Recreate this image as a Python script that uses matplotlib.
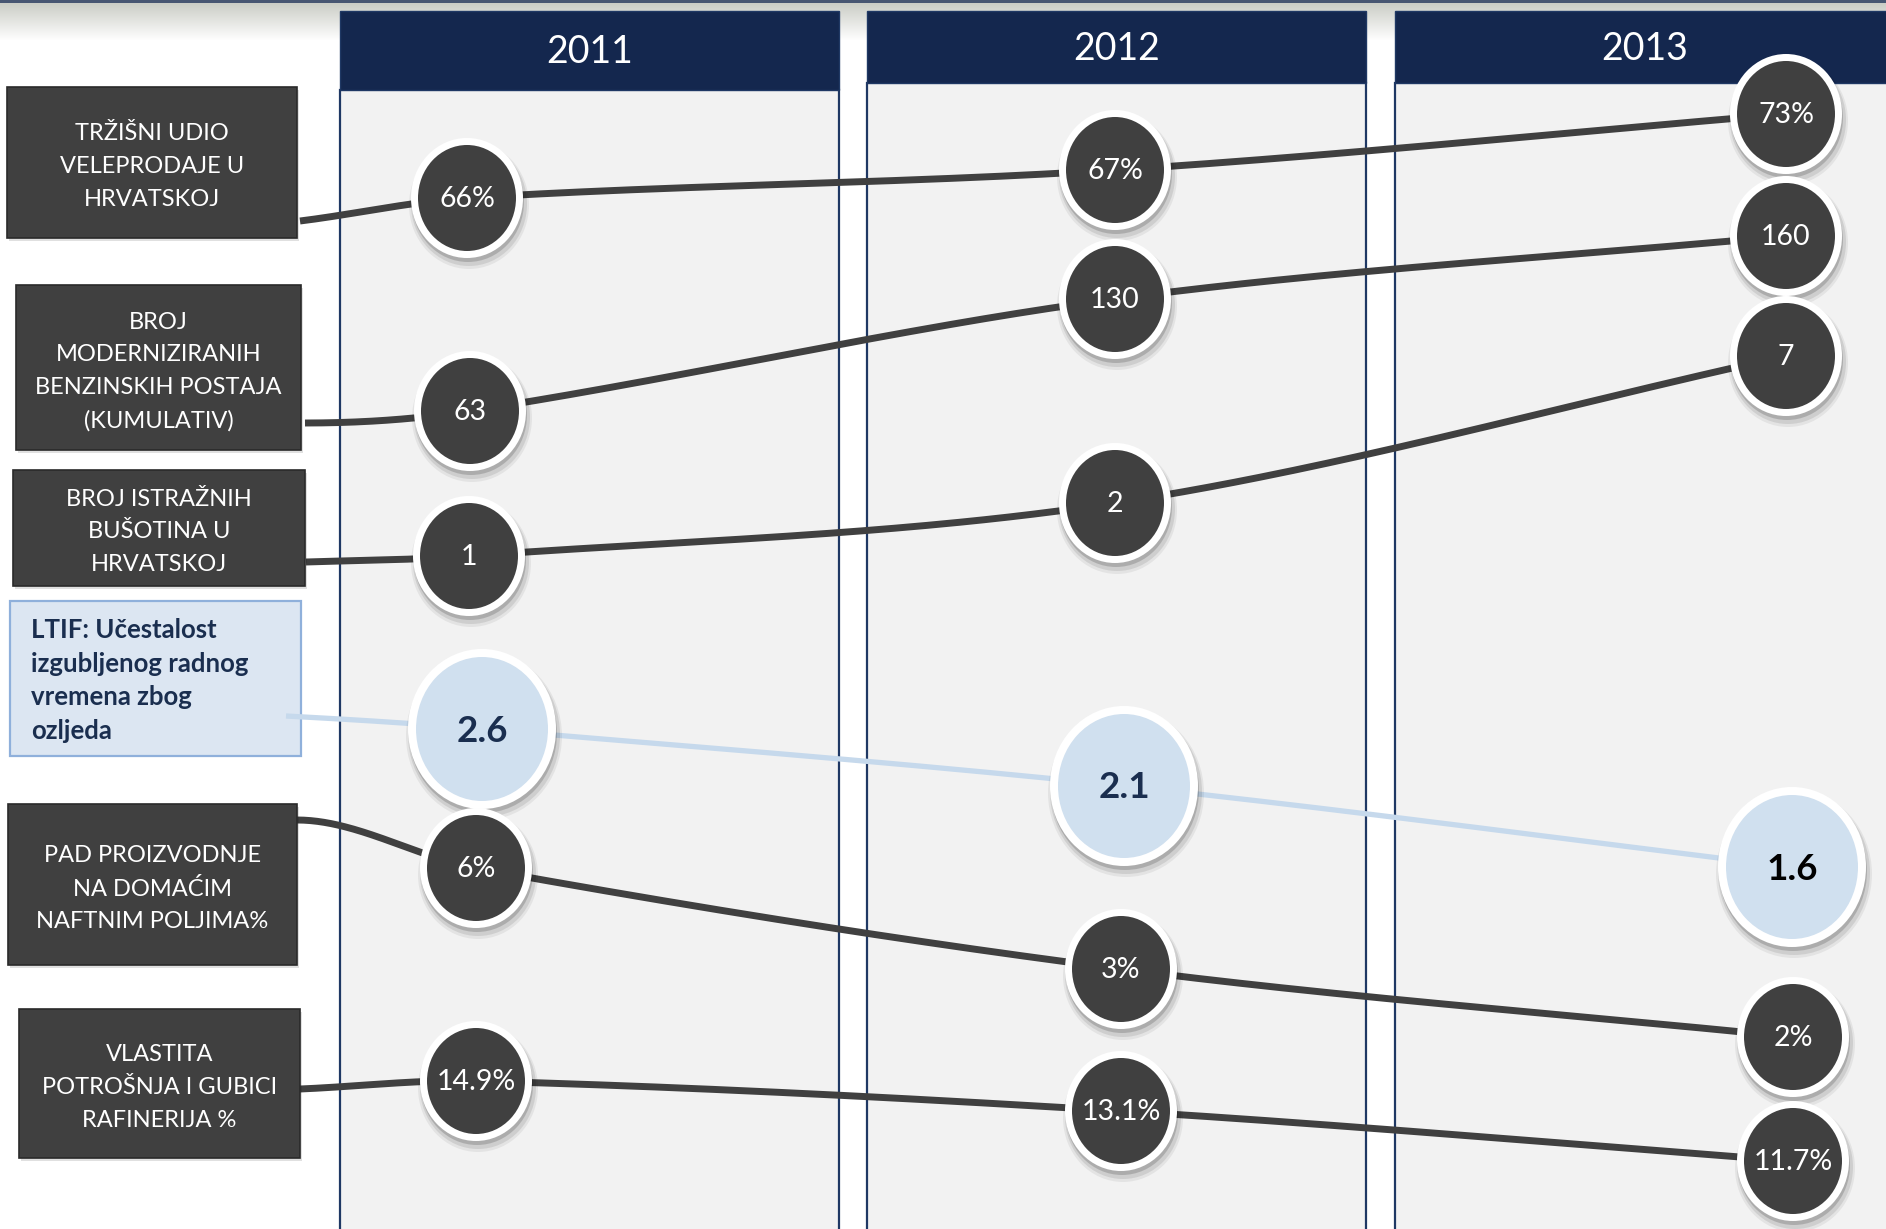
import numpy as np
import matplotlib
matplotlib.use("Agg")
import matplotlib.pyplot as plt
from matplotlib.patches import Rectangle, Ellipse

# ---------------- data ----------------
years = ["2011", "2012", "2013"]

row_labels = [
    "TRŽIŠNI UDIO\nVELEPRODAJE U\nHRVATSKOJ",
    "BROJ\nMODERNIZIRANIH\nBENZINSKIH POSTAJA\n(KUMULATIV)",
    "BROJ ISTRAŽNIH\nBUŠOTINA U\nHRVATSKOJ",
    "LTIF: Učestalost\nizgubljenog radnog\nvremena zbog\nozljeda",
    "PAD PROIZVODNJE\nNA DOMAĆIM\nNAFTNIM POLJIMA%",
    "VLASTITA\nPOTROŠNJA I GUBICI\nRAFINERIJA %",
]

market_share_pct = [66, 67, 73]
modernized_stations = [63, 130, 160]
exploration_wells = [1, 2, 7]
ltif = [2.6, 2.1, 1.6]
production_decline_pct = [6, 3, 2]
refinery_losses_pct = [14.9, 13.1, 11.7]

series = [market_share_pct, modernized_stations, exploration_wells,
          ltif, production_decline_pct, refinery_losses_pct]
is_percent = [True, False, False, False, True, True]
highlight = [False, False, False, True, False, False]

# ---------------- layout (pixel canvas) ----------------
W, H = 1886, 1229
col_x = [(340, 839), (867, 1366), (1395, 1900)]
col_header_bottom = [90, 83, 83]
header_top = 11
header_text_y = [52, 49, 49]

label_boxes = [(7, 87, 297, 238), (16, 285, 301, 450), (13, 470, 305, 586),
               (10, 601, 301, 756), (8, 804, 297, 965), (19, 1009, 300, 1158)]
line_starts = [(300, 221), (305, 423), (306, 562), (286, 716), (297, 820), (300, 1089)]
start_slope = [0.9, 0.0, 0.9, 0.8, 0.0, 0.9]
bubble_x = [[467, 1115, 1786], [470, 1115, 1786], [469, 1115, 1786],
            [482, 1124, 1792], [476, 1121, 1793], [476, 1121, 1793]]
bubble_y = [[198, 170, 114], [411, 299, 236], [556, 503, 356],
            [729, 786, 867], [868, 969, 1037], [1081, 1111, 1161]]

NAVY = "#14274e"
BORDER = "#1f3864"
COLBG = "#f2f2f2"
DARK = "#404040"
LIGHT = "#d0e0ef"
LTIF_BOX = "#dce6f2"
LTIF_EDGE = "#8fb0db"
LTIF_TEXT = "#1a2e4f"
LTIF_LINE = "#c6d9ec"

FONT = "Lato"
plt.rcParams["font.family"] = [FONT, "DejaVu Sans"]

fig = plt.figure(figsize=(W / 100, H / 100), dpi=100)
ax = fig.add_axes([0, 0, 1, 1])
ax.set_xlim(0, W)
ax.set_ylim(H, 0)
ax.axis("off")

# top gradient strip
n = 45
grad = np.ones((n, 1, 4))
t = np.linspace(0, 1, n)
base = np.array([0.78, 0.79, 0.76])
for i in range(n):
    a = max(0.0, 1 - t[i] * 1.1)
    grad[i, 0, :3] = base * a + (1 - a) * 1.0
grad[0:3, 0, :3] = [0.28, 0.34, 0.45]
ax.imshow(grad, extent=(0, W, n, 0), aspect="auto", zorder=0.5)

# columns
for (x0, x1), hb, ty, yr in zip(col_x, col_header_bottom, header_text_y, years):
    ax.add_patch(Rectangle((x0, hb), x1 - x0, H - hb, fc=COLBG, ec="none", zorder=1))
    ax.plot([x0, x0], [hb, H], color=BORDER, lw=1.6, zorder=1.5)
    ax.plot([x1, x1], [hb, H], color=BORDER, lw=1.6, zorder=1.5)
    ax.add_patch(Rectangle((x0, header_top), x1 - x0, hb - header_top, fc=NAVY,
                           ec=BORDER, lw=1, zorder=2))
    xc = (x0 + x1) / 2 if x1 < W else (x0 + 1894) / 2
    ax.text(xc, ty, yr, color="white", fontsize=27, ha="center", va="center",
            zorder=2.5)


def smooth_path(xs, ys, s0, npts=80):
    xs = np.asarray(xs, float)
    ys = np.asarray(ys, float)
    m = np.zeros(len(xs))
    m[0] = s0 * (ys[1] - ys[0]) / (xs[1] - xs[0])
    for i in range(1, len(xs) - 1):
        m[i] = (ys[i + 1] - ys[i - 1]) / (xs[i + 1] - xs[i - 1])
    m[-1] = (ys[-1] - ys[-2]) / (xs[-1] - xs[-2])
    px, py = [], []
    for i in range(len(xs) - 1):
        h = xs[i + 1] - xs[i]
        s = np.linspace(0, 1, npts)
        h00 = 2 * s**3 - 3 * s**2 + 1
        h10 = s**3 - 2 * s**2 + s
        h01 = -2 * s**3 + 3 * s**2
        h11 = s**3 - s**2
        px.append(xs[i] + s * h)
        py.append(h00 * ys[i] + h10 * h * m[i] + h01 * ys[i + 1] + h11 * h * m[i + 1])
    return np.concatenate(px), np.concatenate(py)


def bubble(x, y, light, z):
    if light:
        w, hgt, ring = 148, 160, 8
        fc = LIGHT
    else:
        w, hgt, ring = 112, 120, 7
        fc = DARK
    for dx, dy, grow, a in [(2, 7, 8, 0.06), (2, 6, 4, 0.09), (1, 4, 0, 0.16)]:
        ax.add_patch(Ellipse((x + dx, y + dy), w + grow, hgt + grow, fc="black",
                             alpha=a, ec="none", zorder=z))
    ax.add_patch(Ellipse((x, y), w, hgt, fc="white", ec="none", zorder=z + 0.1))
    ax.add_patch(Ellipse((x, y), w - 2 * ring, hgt - 2 * ring, fc=fc, ec="none",
                         zorder=z + 0.2))


for r, vals in enumerate(series):
    light = highlight[r]
    x0, y0, x1, y1 = label_boxes[r]
    if light:
        ax.add_patch(Rectangle((x0, y0), x1 - x0, y1 - y0, fc=LTIF_BOX, ec=LTIF_EDGE,
                               lw=1.6, zorder=4))
        ax.text(x0 + 21, (y0 + y1) / 2 + 2, row_labels[r], color=LTIF_TEXT,
                fontsize=18.5, fontweight="bold", ha="left", va="center",
                linespacing=1.47, zorder=4.2)
    else:
        ax.add_patch(Rectangle((x0 + 2, y0 + 3), x1 - x0, y1 - y0, fc="black",
                               alpha=0.12, ec="none", zorder=3.9))
        ax.add_patch(Rectangle((x0, y0), x1 - x0, y1 - y0, fc=DARK, ec="#2a2a2a",
                               lw=1.2, zorder=4))
        ax.text((x0 + x1) / 2, (y0 + y1) / 2 + 4, row_labels[r], color="white",
                fontsize=17, ha="center", va="center", linespacing=1.68, zorder=4.2)

    sx, sy = line_starts[r]
    px, py = smooth_path([sx] + bubble_x[r], [sy] + bubble_y[r], start_slope[r])
    ax.plot(px, py, color=LTIF_LINE if light else DARK, lw=3.8 if light else 5.0,
            solid_capstyle="butt", zorder=4.5 if light else 3)

    for j, v in enumerate(vals):
        txt = f"{v:g}%" if is_percent[r] else f"{v:g}"
        bx, by = bubble_x[r][j], bubble_y[r][j]
        bubble(bx, by, light, 5 + r)
        if light:
            col = "black" if j == len(vals) - 1 else LTIF_TEXT
            ax.text(bx, by + 2, txt, color=col, fontsize=26.5, fontweight="bold",
                    ha="center", va="center", zorder=5.5 + r)
        else:
            ax.text(bx, by + 1, txt, color="white", fontsize=20.5,
                    ha="center", va="center", zorder=5.5 + r)

fig.savefig("out.png", dpi=100, facecolor="white")
